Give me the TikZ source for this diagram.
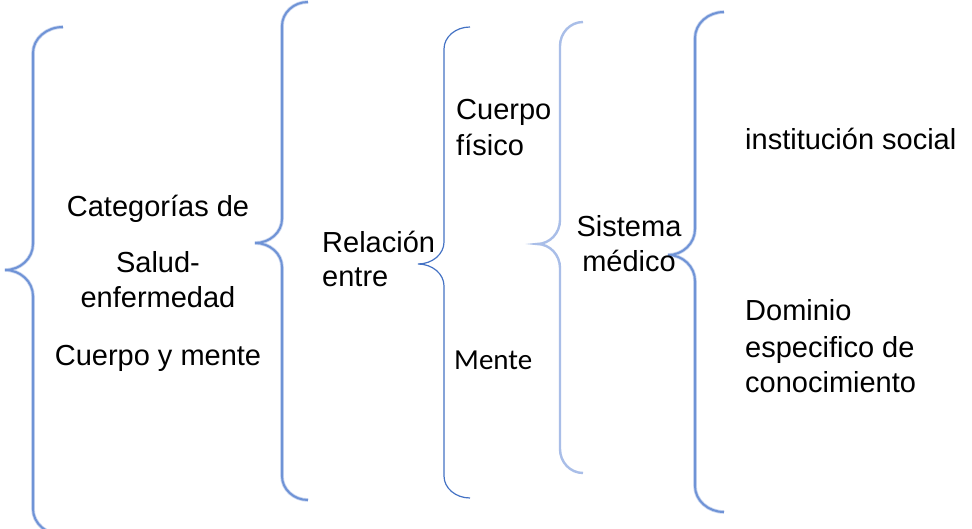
\documentclass[tikz,border=0pt]{standalone}
\usepackage{fontspec}
\setmainfont{Liberation Sans}
\newfontfamily\calib{Carlito}
\newcommand{\mybrace}[8]{%
\draw[#1] (#2,#3) .. controls ({#2-0.552*(#2-#4)},#3) and (#4,{#3+0.448*#8}) .. (#4,{#3+#8})
 -- (#4,{#6-#8}) .. controls (#4,{#6-0.448*#8}) and ({#5+0.552*(#4-#5)},#6) .. (#5,#6)
 .. controls ({#5+0.552*(#4-#5)},#6) and (#4,{#6+0.448*#8}) .. (#4,{#6+#8})
 -- (#4,{#7-#8}) .. controls (#4,{#7-0.448*#8}) and ({#2-0.552*(#2-#4)},#7) .. (#2,#7);}
\definecolor{bmid}{HTML}{6F93D6}
\definecolor{bhalo}{HTML}{C9D6F0}
\definecolor{bdark}{HTML}{4472C4}
\definecolor{blight}{HTML}{A9BEE8}
\tikzset{
  bracehalo/.style={draw=bhalo, line width=3.6pt},
  bracemain/.style={draw=bmid, line width=2pt},
  bracethin/.style={draw=bdark, line width=1.2pt},
  bracelight/.style={draw=blight, line width=2.4pt},
  lbl/.style={inner sep=0pt, font=\fontsize{29}{35}\selectfont},
  lblc/.style={inner sep=0pt, font=\calib\fontsize{29}{35}\selectfont},
}
\begin{document}
\begin{tikzpicture}[x=1pt,y=-1pt]
\clip (0,0) rectangle (972,529);
\fill[white] (0,0) rectangle (972,529);
% braces
\mybrace{bracehalo}{63}{27}{33}{5}{270}{535}{26}
\mybrace{bracemain}{63}{27}{33}{5}{270}{535}{26}
\mybrace{bracehalo}{308}{2}{282}{255}{243}{500}{24}
\mybrace{bracemain}{308}{2}{282}{255}{243}{500}{24}
\mybrace{bracethin}{470}{27}{444}{418}{264}{498}{22}
\mybrace{bracelight}{583}{22}{560}{537}{244}{473}{24}
\mybrace{bracehalo}{724}{12}{695}{668}{255}{512}{26}
\mybrace{bracemain}{724}{12}{695}{668}{255}{512}{26}
% texts
\node[lbl, anchor=base] (t1) at (158,217) {Categorías de};
\node[lbl, anchor=base] (t2) at (158,273) {Salud-};
\node[lbl, anchor=base] (t3) at (158,308) {enfermedad};
\node[lbl, anchor=base] (t4) at (158,365) {Cuerpo y mente};
\node[lbl, anchor=base west] (r1) at (322,253) {Relación};
\node[lbl, anchor=base west] (r2) at (322,287) {entre};
\node[lbl, anchor=base west] (c1) at (456,120) {Cuerpo};
\node[lbl, anchor=base west] (c2) at (456,156) {físico};
\node[lblc, anchor=base west] (m1) at (454,370) {Mente};
\node[lbl, anchor=base] (s1) at (629,237) {Sistema};
\node[lbl, anchor=base] (s2) at (629,272) {médico};
\node[lbl, anchor=base west] (i1) at (745,150) {institución social};
\node[lbl, anchor=base west] (d1) at (745,321) {Dominio};
\node[lbl, anchor=base west] (d2) at (745,357) {especifico de};
\node[lbl, anchor=base west] (d3) at (745,392) {conocimiento};
\end{tikzpicture}
\end{document}
